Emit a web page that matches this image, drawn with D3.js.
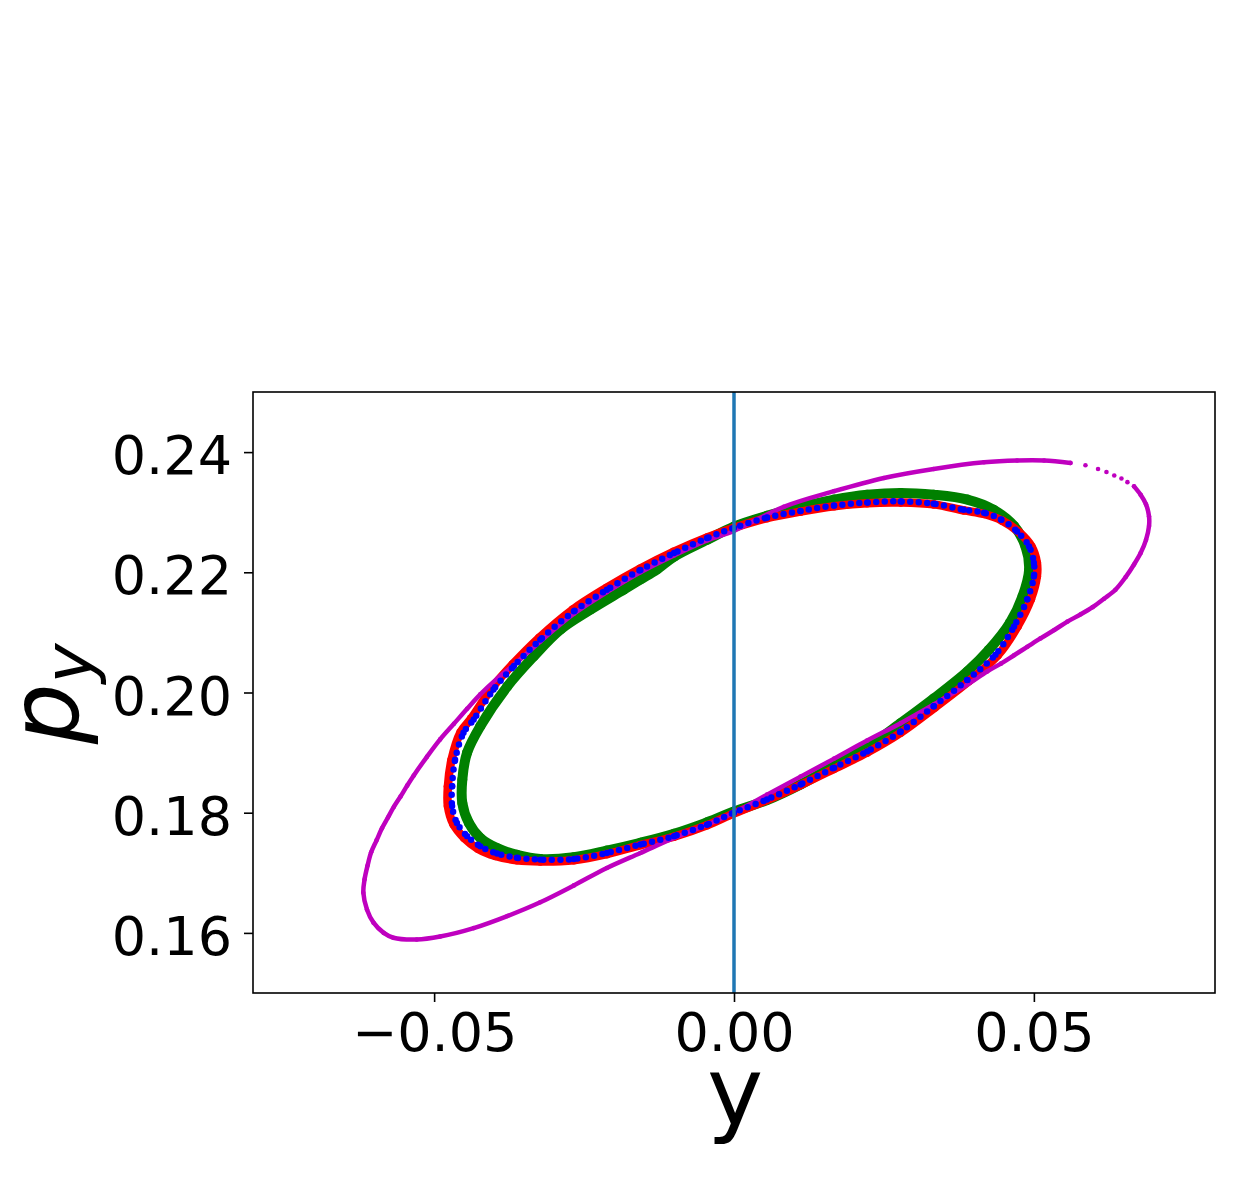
<!DOCTYPE html>
<html><head><meta charset="utf-8">
<script src="https://cdn.jsdelivr.net/npm/d3@7"></script>
<style>body{margin:0;background:#fff}svg{display:block}</style>
</head><body><svg id="c" width="1252" height="1182"></svg>
<script>
// ---- data (y, p_y) ----
const xTicks = [-0.05, 0.00, 0.05];
const yTicks = [0.16, 0.18, 0.20, 0.22, 0.24];

const magentaLoop = [
 [0.0667,0.2343],[0.0678,0.2329],[0.0687,0.2313],[0.0692,0.2293],[0.0692,0.2277],
 [0.0687,0.2254],[0.0678,0.2232],[0.0667,0.2213],[0.0653,0.2192],[0.0636,0.2171],
 [0.0617,0.2156],[0.0598,0.2142],[0.0578,0.2130],[0.0556,0.2118],[0.0534,0.2104],
 [0.0511,0.2090],[0.0489,0.2076],[0.0467,0.2062],[0.0445,0.2048],[0.0422,0.2035],
 [0.0389,0.2013],[0.0333,0.1980],[0.0278,0.1949],[0.0222,0.1920],[0.0167,0.1890],
 [0.0111,0.1860],[0.0055,0.1830],[0.0000,0.1800],[-0.0045,0.1780],[-0.0100,0.1758],
 [-0.0156,0.1733],[-0.0212,0.1708],[-0.0267,0.1679],[-0.0323,0.1651],[-0.0378,0.1628],
 [-0.0434,0.1608],[-0.0490,0.1594],[-0.0529,0.1589],[-0.0568,0.1592],[-0.0584,0.1600],
 [-0.0601,0.1617],[-0.0612,0.1639],[-0.0618,0.1667],[-0.0616,0.1689],[-0.0611,0.1712],
 [-0.0605,0.1734],[-0.0596,0.1754],[-0.0587,0.1774],[-0.0577,0.1792],[-0.0567,0.1810],
 [-0.0556,0.1827],[-0.0545,0.1845],[-0.0534,0.1862],[-0.0512,0.1893],[-0.0490,0.1922],
 [-0.0467,0.1948],[-0.0445,0.1973],[-0.0423,0.1997],[-0.0395,0.2023],[-0.0367,0.2046],
 [-0.0323,0.2085],[-0.0267,0.2131],[-0.0212,0.2167],[-0.0156,0.2200],[-0.0100,0.2228],
 [-0.0045,0.2253],[0.0000,0.2269],[0.0083,0.2309],[0.0167,0.2335],[0.0250,0.2357],
 [0.0333,0.2372],[0.0417,0.2383],[0.0472,0.2386],[0.0517,0.2386],[0.0561,0.2382]
];
const magentaGap = [
 [0.0586,0.2378],[0.0607,0.2372],[0.0621,0.2367],[0.0634,0.2361],[0.0646,0.2356],[0.0656,0.2350]
];
const greenLoop = [
 [0.0000,0.2276],[0.0055,0.2294],[0.0111,0.2309],[0.0167,0.2321],[0.0222,0.2329],
 [0.0278,0.2332],[0.0333,0.2329],[0.0389,0.2321],[0.0433,0.2304],[0.0467,0.2277],
 [0.0486,0.2243],[0.0492,0.2204],[0.0481,0.2160],[0.0460,0.2116],[0.0425,0.2071],
 [0.0389,0.2035],[0.0333,0.1990],[0.0278,0.1949],[0.0222,0.1909],[0.0167,0.1878],
 [0.0111,0.1847],[0.0055,0.1821],[0.0000,0.1802],[-0.0045,0.1784],[-0.0100,0.1765],
 [-0.0156,0.1750],[-0.0212,0.1737],[-0.0267,0.1726],[-0.0323,0.1723],[-0.0362,0.1730],
 [-0.0395,0.1741],[-0.0423,0.1758],[-0.0442,0.1783],[-0.0453,0.1816],[-0.0453,0.1855],
 [-0.0445,0.1900],[-0.0423,0.1944],[-0.0378,0.2010],[-0.0334,0.2060],[-0.0289,0.2105],
 [-0.0239,0.2138],[-0.0184,0.2171],[-0.0156,0.2188],[-0.0128,0.2205],[-0.0100,0.2226],
 [-0.0045,0.2254]
];
const redLoop = [
 [0.0000,0.2274],[0.0055,0.2290],[0.0111,0.2301],[0.0167,0.2310],[0.0222,0.2315],
 [0.0278,0.2316],[0.0333,0.2313],[0.0383,0.2303],[0.0417,0.2297],[0.0447,0.2286],
 [0.0475,0.2267],[0.0496,0.2243],[0.0505,0.2216],[0.0505,0.2193],[0.0495,0.2155],
 [0.0473,0.2110],[0.0440,0.2062],[0.0392,0.2019],[0.0335,0.1975],[0.0278,0.1933],
 [0.0222,0.1900],[0.0167,0.1873],[0.0111,0.1846],[0.0055,0.1821],[0.0000,0.1799],
 [-0.0045,0.1779],[-0.0100,0.1760],[-0.0156,0.1746],[-0.0212,0.1731],[-0.0267,0.1721],
 [-0.0323,0.1719],[-0.0362,0.1721],[-0.0398,0.1728],[-0.0427,0.1740],[-0.0450,0.1758],
 [-0.0468,0.1781],[-0.0477,0.1811],[-0.0477,0.1844],[-0.0471,0.1888],[-0.0456,0.1934],
 [-0.0438,0.1957],[-0.0404,0.2007],[-0.0369,0.2047],[-0.0325,0.2091],[-0.0269,0.2138],
 [-0.0213,0.2174],[-0.0157,0.2206],[-0.0101,0.2234],[-0.0045,0.2258]
];
const blueLoop = [
 [0.0000,0.2274],[0.0055,0.2291],[0.0111,0.2302],[0.0167,0.2311],[0.0222,0.2316],
 [0.0278,0.2318],[0.0333,0.2314],[0.0383,0.2304],[0.0417,0.2299],[0.0445,0.2288],
 [0.0472,0.2268],[0.0492,0.2243],[0.0500,0.2216],[0.0500,0.2193],[0.0489,0.2155],
 [0.0467,0.2110],[0.0436,0.2063],[0.0389,0.2021],[0.0333,0.1977],[0.0278,0.1935],
 [0.0222,0.1902],[0.0167,0.1875],[0.0111,0.1847],[0.0055,0.1822],[0.0000,0.1800],
 [-0.0045,0.1780],[-0.0100,0.1761],[-0.0156,0.1747],[-0.0212,0.1733],[-0.0267,0.1723],
 [-0.0323,0.1722],[-0.0362,0.1725],[-0.0395,0.1732],[-0.0423,0.1744],[-0.0445,0.1761],
 [-0.0462,0.1783],[-0.0470,0.1811],[-0.0470,0.1844],[-0.0465,0.1888],[-0.0451,0.1933],
 [-0.0434,0.1955],[-0.0401,0.2005],[-0.0367,0.2044],[-0.0323,0.2088],[-0.0267,0.2135],
 [-0.0212,0.2171],[-0.0156,0.2204],[-0.0100,0.2232],[-0.0045,0.2257]
];

// ---- layout ----
const svg = d3.select("#c");
const M = {left:253, right:1215, top:392, bottom:993};
const x = d3.scaleLinear().domain([-0.0802, 0.0802]).range([M.left, M.right]);
const y = d3.scaleLinear().domain([0.15, 0.25]).range([M.bottom, M.top]);
const FONT = "'DejaVu Sans', sans-serif";

const lineOpen = d3.line().x(d=>x(d[0])).y(d=>y(d[1])).curve(d3.curveCatmullRom);
const lineClosed = d3.line().x(d=>x(d[0])).y(d=>y(d[1])).curve(d3.curveCatmullRomClosed);

const plot = svg.append("g");

function series(data, color, width, closed, dash, r){
  plot.append("path").attr("d", (closed?lineClosed:lineOpen)(data))
    .attr("fill","none").attr("stroke",color).attr("stroke-width",width)
    .attr("stroke-linecap","round").attr("stroke-linejoin","round")
    .attr("stroke-dasharray", dash || null);
  plot.append("g").selectAll("circle").data(data).join("circle")
    .attr("cx",d=>x(d[0])).attr("cy",d=>y(d[1])).attr("r",r).attr("fill",color);
}
series(greenLoop, "#008000", 10, true, null, 5);
series(redLoop, "#ff0000", 8.5, true, null, 4.3);
series(magentaLoop, "#bf00bf", 4.5, false, null, 2.3);
plot.append("g").selectAll("circle").data(magentaGap).join("circle")
  .attr("cx",d=>x(d[0])).attr("cy",d=>y(d[1])).attr("r",2.3).attr("fill","#bf00bf");
series(blueLoop, "#0000ff", 6.5, true, "0 8.5", 3.2);

// vertical line at y = 0
svg.append("line").attr("x1",x(0)).attr("x2",x(0)).attr("y1",M.top).attr("y2",M.bottom)
  .attr("stroke","#1f77b4").attr("stroke-width",3.5);

// frame
svg.append("rect").attr("x",M.left).attr("y",M.top)
  .attr("width",M.right-M.left).attr("height",M.bottom-M.top)
  .attr("fill","none").attr("stroke","#000").attr("stroke-width",1.6);

// axes
const fmt = d3.format(".2f");
const gx = svg.append("g").attr("transform",`translate(0,${M.bottom})`)
  .call(d3.axisBottom(x).tickValues(xTicks).tickFormat(fmt).tickSize(9).tickPadding(10.7));
const gy = svg.append("g").attr("transform",`translate(${M.left},0)`)
  .call(d3.axisLeft(y).tickValues(yTicks).tickFormat(fmt).tickSize(9).tickPadding(12));
[gx,gy].forEach(g=>{
  g.select(".domain").remove();
  g.selectAll(".tick line").attr("stroke","#000").attr("stroke-width",1.6);
  g.selectAll(".tick text").attr("fill","#000").style("font-family",FONT).style("font-size","54px");
});
gy.selectAll(".tick text").attr("dy","0.40em");

// axis labels
svg.append("text").attr("x",(M.left+M.right)/2+1).attr("y",1124)
  .attr("text-anchor","middle").style("font-family",FONT).style("font-size","95px").text("y");
const yl = svg.append("text").attr("transform","translate(78,694) rotate(-90)")
  .attr("text-anchor","middle").style("font-family",FONT).style("font-size","96px");
yl.append("tspan").style("font-style","italic").text("p");
yl.append("tspan").attr("dy",14).style("font-size","67px").style("font-style","italic").text("y");
</script></body></html>
